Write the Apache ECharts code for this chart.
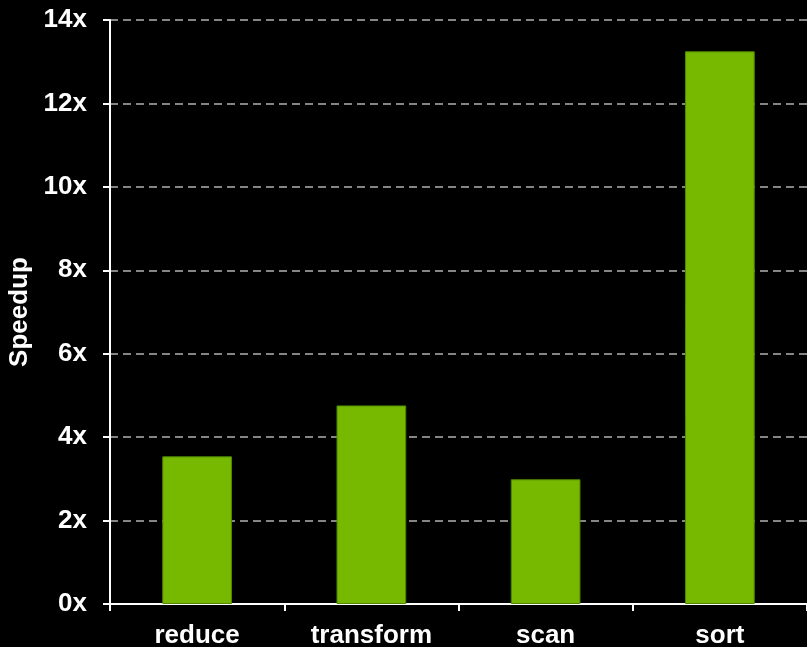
<!DOCTYPE html>
<html>
<head>
<meta charset="utf-8">
<style>
  html, body { margin: 0; padding: 0; background: #000; }
  #chart { width: 807px; height: 647px; }
</style>
<script src="https://cdn.jsdelivr.net/npm/echarts@6/dist/echarts.min.js"></script>
</head>
<body>
<div id="chart"></div>
<script>
const categories = ['reduce', 'transform', 'scan', 'sort'];
const speedups = [3.54, 4.76, 2.99, 13.25];
const yTicks = [0, 2, 4, 6, 8, 10, 12, 14];

const chart = echarts.init(document.getElementById('chart'));
chart.setOption({
  backgroundColor: '#000000',
  animation: false,
  grid: { left: 110, right: 0, top: 20, bottom: 43, containLabel: false, outerBoundsMode: 'none' },
  xAxis: {
    type: 'category',
    data: categories,
    axisLine: { lineStyle: { color: '#ffffff', width: 2 } },
    axisTick: { show: true, length: 7, lineStyle: { color: '#ffffff', width: 2 } },
    axisLabel: {
      color: '#ffffff', fontWeight: 'bold', fontSize: 26,
      fontFamily: 'Liberation Sans, Arial, sans-serif', margin: 19
    }
  },
  yAxis: {
    type: 'value',
    min: yTicks[0],
    max: yTicks[yTicks.length - 1],
    interval: 2,
    name: 'Speedup',
    nameLocation: 'middle',
    nameGap: 75,
    nameRotate: 90,
    nameTextStyle: {
      color: '#ffffff', fontWeight: 'bold', fontSize: 26,
      fontFamily: 'Liberation Sans, Arial, sans-serif'
    },
    axisLine: { show: true, lineStyle: { color: '#ffffff', width: 2 } },
    axisTick: { show: true, length: 7, lineStyle: { color: '#ffffff', width: 2 } },
    axisLabel: {
      color: '#ffffff', fontWeight: 'bold', fontSize: 26,
      fontFamily: 'Liberation Sans, Arial, sans-serif', margin: 23,
      formatter: v => v + 'x'
    },
    splitLine: {
      show: true,
      lineStyle: { color: '#858585', width: 2, type: [8, 5] }
    }
  },
  series: [{
    type: 'bar',
    data: speedups,
    barWidth: '40%',
    itemStyle: { color: '#76b900', borderColor: '#4f8a00', borderWidth: 1 }
  }]
});
</script>
</body>
</html>
